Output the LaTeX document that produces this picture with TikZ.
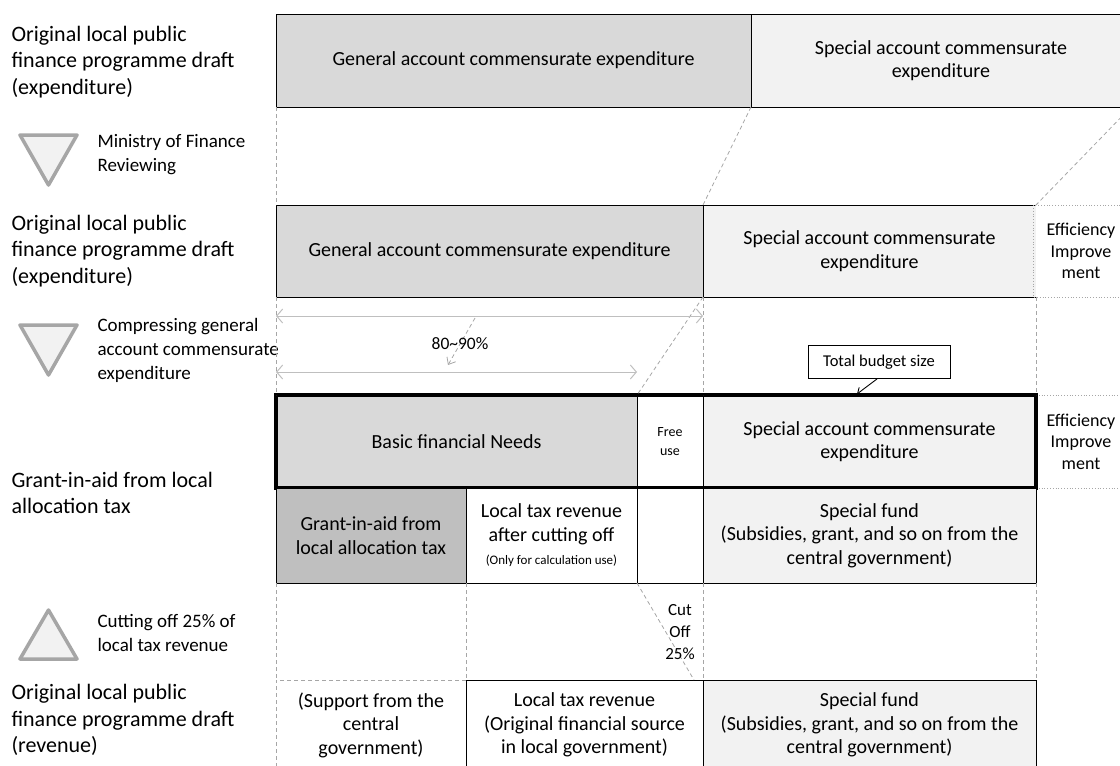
\documentclass[tikz,border=0pt]{standalone}
\usepackage{fontspec}
\setmainfont{Carlito}
\usetikzlibrary{arrows.meta}
\definecolor{genfill}{HTML}{D9D9D9}
\definecolor{specfill}{HTML}{F2F2F2}
\definecolor{grantfill}{HTML}{BFBFBF}
\definecolor{guidegray}{HTML}{A6A6A6}
\definecolor{spangray}{HTML}{BFBFBF}

\begin{document}
\begin{tikzpicture}[x=1pt,y=-1pt,
  cell/.style={draw,line width=0.9pt,inner sep=0pt,outer sep=0pt,align=center,
    font=\fontsize{20}{23.5}\selectfont},
  side/.style={anchor=west,align=left,font=\fontsize{22}{26.5}\selectfont},
  note/.style={anchor=west,align=left,font=\fontsize{19}{24}\selectfont},
  guideline/.style={guidegray,dash pattern=on 4pt off 3pt,line width=0.8pt},
  effline/.style={guidegray,dotted,line width=0.8pt},
  tri/.style={guidegray,fill=specfill,line width=3.5pt,line join=round},
  span/.style={spangray,line width=1pt,<->,>={Straight Barb[length=6pt,width=14pt]}}]
  \useasboundingbox (0,0) rectangle (1120,766);
  \clip (0,0) rectangle (1120,766);
  % left hand labels
  \node[side] (lab1) at (8,62) {Original local public\\finance programme draft\\(expenditure)};
  \node[side] (lab2) at (8,251) {Original local public\\finance programme draft\\(expenditure)};
  \node[side] (lab3) at (8,493) {Grant-in-aid from local\\allocation tax};
  \node[side] (lab4) at (8,720) {Original local public\\finance programme draft\\(revenue)};
  \draw[tri] (20,135) -- (77,135) -- (48.5,185) -- cycle;
  \draw[tri] (20,325) -- (77,325) -- (48.5,375) -- cycle;
  \draw[tri] (20,659) -- (77,659) -- (48.5,610) -- cycle;
  \node[note] (rev) at (94,155) {Ministry of Finance\\Reviewing};
  \node[note] (comp) at (94,350) {Compressing general\\account commensurate\\expenditure};
  \node[note] (cut) at (94,633) {Cutting off 25\% of\\local tax revenue};
  % draft before review
  \node[cell,fill=genfill,minimum width=475pt,minimum height=93pt] (gen1) at (513.5,60.5)
       {General account commensurate expenditure};
  \node[cell,fill=specfill,minimum width=380pt,minimum height=93pt] (spec1) at (941,60.5)
       {Special account commensurate\\expenditure};
  % draft after review
  \node[cell,fill=genfill,minimum width=427pt,minimum height=92pt] (gen2) at (489.5,251)
       {General account commensurate expenditure};
  \node[cell,draw=none,fill=specfill,minimum width=333pt,minimum height=92pt] (spec2) at (869.5,251)
       {Special account commensurate\\expenditure};
  \draw[line width=0.9pt] (spec2.north east) -- (spec2.north west) -- (spec2.south west) -- (spec2.south east);
  \node[cell,draw=none,minimum width=95pt,minimum height=92pt,font=\fontsize{18}{21.5}\selectfont]
       (eff2) at (1081,251) {Efficiency\\Improve\\ment};
  \draw[effline] (eff2.north east) -- (eff2.north west) -- (eff2.south west) -- (eff2.south east);
  % total budget
  \node[cell,fill=genfill,minimum width=361pt,minimum height=93pt] (basic) at (456.5,441.5)
       {Basic financial Needs};
  \node[cell,fill=white,minimum width=66pt,minimum height=93pt,font=\fontsize{14}{19}\selectfont]
       (free) at (670,441.5) {Free\\use};
  \node[cell,fill=specfill,minimum width=333pt,minimum height=93pt] (spec3) at (869.5,441.5)
       {Special account commensurate\\expenditure};
  \node[cell,draw=none,minimum width=90pt,minimum height=93pt,font=\fontsize{18}{21.5}\selectfont]
       (eff3) at (1081,441.5) {Efficiency\\Improve\\ment};
  \draw[effline] (eff3.north west) -- (eff3.north east);
  \draw[effline] (eff3.south west) -- (eff3.south east);
  \draw[line width=3.5pt] (basic.north west) rectangle (spec3.south east);
  % revenue side
  \node[cell,fill=grantfill,minimum width=190pt,minimum height=95pt] (grant) at (371,535.5)
       {Grant-in-aid from\\local allocation tax};
  \node[cell,fill=white,minimum width=171pt,minimum height=95pt] (aftercut) at (551.5,535.5)
       {Local tax revenue\\after cutting off\\{\fontsize{13}{15}\selectfont (Only for calculation use)}};
  \node[cell,fill=white,minimum width=66pt,minimum height=95pt] (blank) at (670,535.5) {};
  \node[cell,fill=specfill,minimum width=333pt,minimum height=95pt] (fund4) at (869.5,535.5)
       {Special fund\\(Subsidies, grant, and so on from the\\central government)};
  \node[cell,draw=guidegray,dash pattern=on 4pt off 3pt,minimum width=190pt,minimum height=90pt]
       (support) at (371,725) {(Support from the\\central\\government)};
  \node[cell,fill=white,minimum width=237pt,minimum height=90pt] (tax5) at (584.5,725)
       {Local tax revenue\\(Original financial source\\in local government)};
  \node[cell,fill=specfill,minimum width=333pt,minimum height=90pt] (fund5) at (869.5,725)
       {Special fund\\(Subsidies, grant, and so on from the\\central government)};
  % dashed guides between the rows
  \draw[guideline] (gen1.south west) -- (gen2.north west);
  \draw[guideline] (gen1.south east) -- (gen2.north east);
  \draw[guideline] (spec1.south east) -- (spec2.north east);
  \draw[guideline] (gen2.south west) -- (basic.north west);
  \draw[guideline] (gen2.south east) -- (basic.north east);
  \draw[guideline] (spec2.south west) -- (spec3.north west);
  \draw[guideline] (spec2.south east) -- (spec3.north east);
  \draw[guideline] (grant.south west) -- (support.north west);
  \draw[guideline] (grant.south east) -- (support.north east);
  \draw[guideline] (fund4.south west) -- (fund5.north west);
  \draw[guideline] (fund4.south east) -- (fund5.north east);
  \draw[guideline] (aftercut.south east) -- ([xshift=-9pt]tax5.north east);
  \node[align=center,font=\fontsize{17}{22}\selectfont] (cutoff) at (680,632) {Cut\\Off\\25\%};
  % compression of the general account
  \draw[span] ([yshift=-19pt]gen2.south west) -- ([yshift=-19pt]gen2.south east);
  \draw[span] ([yshift=23pt]basic.north west) -- ([yshift=23pt]basic.north east);
  \coordinate (pctFrom) at (475,318);
  \coordinate (pctTo) at (448,365);
  \draw[guideline,-{Straight Barb[length=6pt,width=10pt]}] (pctFrom) -- (pctTo);
  \node[font=\fontsize{17.5}{20}\selectfont] (pct) at (460,344) {80\textasciitilde 90\%};
  % callout
  \node[draw,line width=0.9pt,fill=white,minimum width=142pt,minimum height=33pt,inner sep=0pt,
        font=\fontsize{16.5}{19}\selectfont] (budget) at (879,362) {Total budget size};
  \coordinate (budgetTip) at (857,394);
  \draw[line width=0.9pt,-{Straight Barb[length=5pt,width=8pt]}] ([xshift=-2pt]budget.south) -- (budgetTip);
\end{tikzpicture}
\end{document}
